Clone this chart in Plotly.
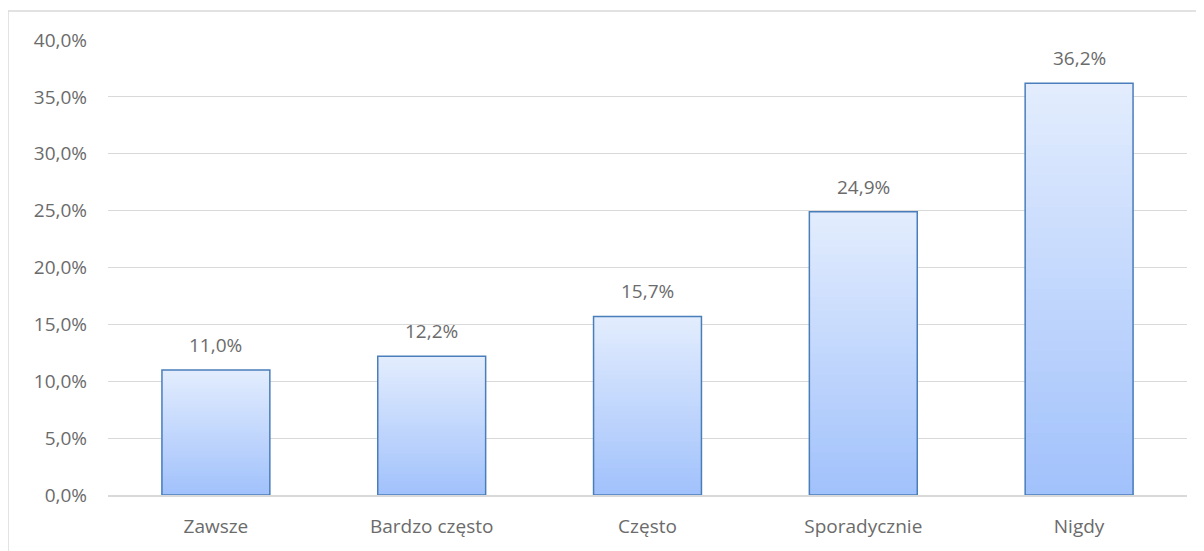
import numpy as np
import plotly.graph_objects as go

categories = ['Zawsze', 'Bardzo często', 'Często', 'Sporadycznie', 'Nigdy']
values = [0.110, 0.122, 0.157, 0.249, 0.362]

TOP_RGB = (226, 236, 253)
BOTTOM_RGB = (162, 194, 252)
STEPS = 40
TEXT = '#6b6b6b'

fig = go.Figure()

# gradient fill: stacked overlay bars, shorter ones darker
vals = np.array(values)
for k in range(STEPS):
    t = k / (STEPS - 1)
    r, g, b = [round(a + (c - a) * t) for a, c in zip(TOP_RGB, BOTTOM_RGB)]
    fig.add_trace(go.Bar(
        x=categories, y=vals * (1 - k / STEPS), width=0.5,
        marker=dict(color=f'rgb({r},{g},{b})', line_width=0),
        hoverinfo='skip', showlegend=False,
    ))

# outline
fig.add_trace(go.Bar(
    x=categories, y=values, width=0.5,
    marker=dict(color='rgba(0,0,0,0)', line=dict(color='#4a7ebb', width=1.5)),
    showlegend=False,
))

# data labels above bars
for c, v in zip(categories, values):
    fig.add_annotation(x=c, y=v, text=f'{v * 100:.1f}%'.replace('.', ','),
                       showarrow=False, yanchor='bottom', yshift=10,
                       font=dict(size=19, color=TEXT))

fig.update_layout(
    barmode='overlay', separators=', ',
    width=1204, height=551,
    paper_bgcolor='white', plot_bgcolor='white',
    margin=dict(l=100, r=25, t=32, b=64),
    font=dict(family='Open Sans', size=19, color=TEXT),
    shapes=[dict(type='rect', xref='paper', yref='paper',
                 x0=-0.0927, x1=1.05, y0=-0.3, y1=1.0637,
                 line=dict(color='#d9d9d9', width=1.5))],
)
fig.update_xaxes(showgrid=False, showline=True, linecolor='#d9d9d9', linewidth=1.5,
                 ticks='', ticklabelstandoff=13, tickfont=dict(size=19, color=TEXT))
fig.update_yaxes(range=[0, 0.40], dtick=0.05, tickformat='.1%', showgrid=True,
                 gridcolor='#d9d9d9', gridwidth=1, zeroline=False, showline=False,
                 ticks='', ticklabelstandoff=20, tickfont=dict(size=19, color=TEXT))

fig.write_html('out.html')
